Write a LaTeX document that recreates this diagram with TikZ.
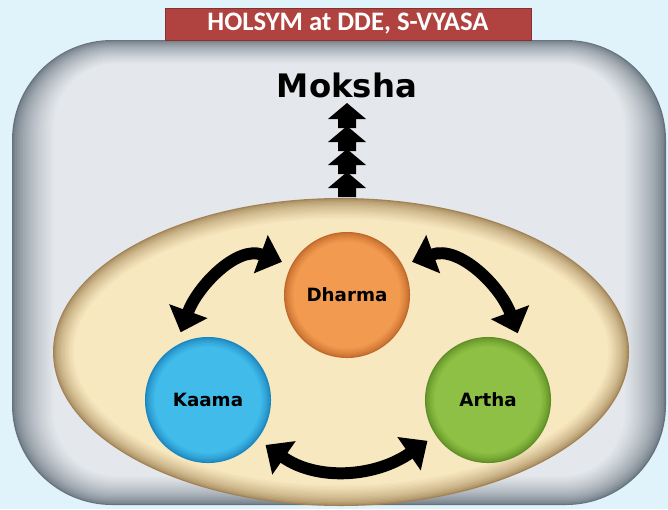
\documentclass[tikz,border=0pt]{standalone}
\usepackage{fontspec}
\setsansfont{DejaVu Sans}
\newfontfamily\bannerfont{Carlito}
\usepackage{tikz}
\usetikzlibrary{arrows.meta,positioning}
\usepackage{xcolor}

\definecolor{skyback}{HTML}{E1F3FA}
\definecolor{panelin}{HTML}{E4E8EC}
\definecolor{panelout}{HTML}{66727D}
\definecolor{eggin}{HTML}{F8E8BF}
\definecolor{eggout}{HTML}{A08255}
\definecolor{bannerred}{HTML}{B0423F}
\definecolor{dharmaIn}{HTML}{F29A4F}
\definecolor{dharmaOut}{HTML}{C0682A}
\definecolor{kaamaIn}{HTML}{40BBEA}
\definecolor{kaamaOut}{HTML}{1B86BC}
\definecolor{arthaIn}{HTML}{8DC044}
\definecolor{arthaOut}{HTML}{5F8E26}

\begin{document}
\begin{tikzpicture}[x = 0.025cm, y = 0.025cm,
    orb/.style = {circle, minimum size = 3.15cm, inner sep = 0pt,
        outer sep = 0.25cm, fill = #1Out,
        font = \sffamily\bfseries\fontsize{13}{15}\selectfont,
        path picture = {
            \foreach \k in {1, ..., 8}{
                \pgfmathsetmacro{\pct}{100 * (\k / 8)^0.7}
                \fill[#1In!\pct!#1Out] (path picture bounding box.center)
                    circle (1.575cm - \k * 0.03cm);
            }
        }},
    bigarrow/.style = {line width = 8.5pt,
        {Triangle[width = 28pt, length = 16pt]}-{Triangle[width = 28pt, length = 16pt]}}]

% Fond
\fill[skyback] (0, 0) rectangle (668, 509);
\useasboundingbox (0, 0) rectangle (668, 509);

% Panneau gris (bord plus sombre)
\foreach \i in {0, ..., 26}{
    \pgfmathsetmacro{\pct}{100 * (\i / 26)^0.6}
    \pgfmathsetmacro{\rad}{2.5 - \i * 0.035}
    \fill[panelin!\pct!panelout, rounded corners = \rad cm]
        (12 + \i * 1.6, 4 + \i * 1.1) rectangle (666 - \i * 1.6, 469 - \i * 0.9);
}

% Bandeau du titre
\node[draw = bannerred!75!black, fill = bannerred, text = white,
    minimum width = 9.15cm, minimum height = 0.8cm,
    font = \bannerfont\bfseries\fontsize{19}{21}\selectfont]
    (titre) at (348, 485) {HOLSYM at DDE, S-VYASA};

% Ellipse beige
\foreach \i in {0, ..., 16}{
    \pgfmathsetmacro{\pct}{100 * (\i / 16)^0.6}
    \fill[eggin!\pct!eggout] (341, 157) ellipse ({288 - \i * 1.3} and {154 - \i * 1.3});
}

% But final
\node[font = \sffamily\bfseries\fontsize{23}{26}\selectfont] (moksha) at (347, 424) {Moksha};

% Flèches empilées
\foreach \t in {406, 383, 360, 337}{
    \fill (347, \t) -- ++(19, -16) -- ++(-10, 0) -- ++(0, -9) -- ++(-18, 0)
        -- ++(0, 9) -- ++(-10, 0) -- cycle;
}

% Les trois buts
\node[orb = dharma] (dharma) at (347, 214) {Dharma};
\node[orb = kaama] (kaama) at (208, 109) {Kaama};
\node[orb = artha] (artha) at (488, 109) {Artha};

\draw[bigarrow] (kaama.112) to[out = 70, in = 160] (dharma.153);
\draw[bigarrow] (dharma.27) to[out = 20, in = 110] (artha.66);
\draw[bigarrow] (kaama.-38) to[out = -35, in = 215] (artha.214);
\end{tikzpicture}
\end{document}
